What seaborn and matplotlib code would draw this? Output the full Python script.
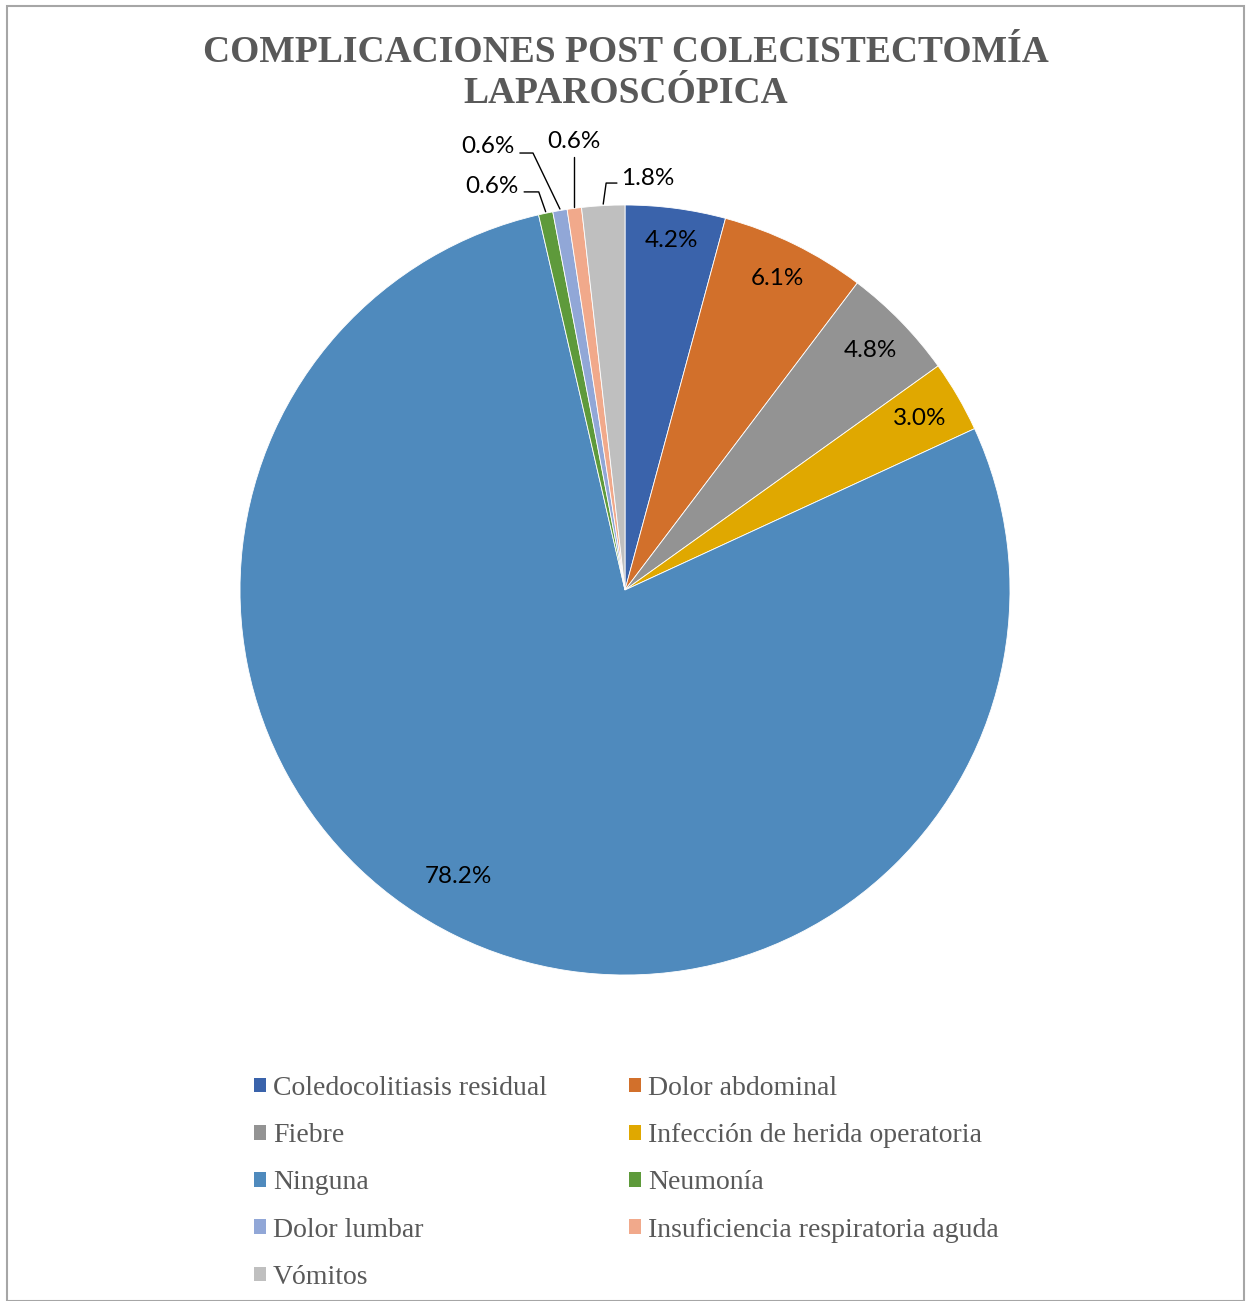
import numpy as np
import matplotlib
matplotlib.use("Agg")
import matplotlib.pyplot as plt
from matplotlib.patches import Patch, Rectangle
import seaborn as sns

# ---------------- data ----------------
categories = [
    "Coledocolitiasis residual",
    "Dolor abdominal",
    "Fiebre",
    "Infección de herida operatoria",
    "Ninguna",
    "Neumonía",
    "Dolor lumbar",
    "Insuficiencia respiratoria aguda",
    "Vómitos",
]
values = [4.2, 6.1, 4.8, 3.0, 78.2, 0.6, 0.6, 0.6, 1.8]
pct_labels = ["4.2%", "6.1%", "4.8%", "3.0%", "78.2%", "0.6%", "0.6%", "0.6%", "1.8%"]
colors = ["#3A63AB", "#D2702B", "#939393", "#E0A800", "#4F8ABD",
          "#5E9A3B", "#91A7D7", "#F1A98B", "#BFBFBF"]
title = "COMPLICACIONES POST COLECISTECTOMÍA\nLAPAROSCÓPICA"

# ---------------- style ----------------
sns.set_theme(style="white")
plt.rcParams["font.family"] = ["Lato", "DejaVu Sans"]

W, H = 1247, 1301
fig = plt.figure(figsize=(W / 100, H / 100), dpi=100)
fig.patch.set_facecolor("white")

# border
fig.add_artist(Rectangle((7 / W, 0), (1244 - 7) / W, 1 - 6 / H, transform=fig.transFigure,
                         fill=False, edgecolor="#A6A6A6", linewidth=1.5))

cx, cy, R = 625, 590, 385
ax = fig.add_axes([(cx - R) / W, 1 - (cy + R) / H, 2 * R / W, 2 * R / H])
wedges, _ = ax.pie(values, colors=colors, startangle=90, counterclock=False,
                   wedgeprops=dict(edgecolor="white", linewidth=0.6))
ax.set_xlim(-1, 1)
ax.set_ylim(-1, 1)
ax.set_aspect("equal")
ax.axis("off")

# inside labels for the big slices: (radial distance, angle shift in degrees)
inside = {0: (0.915, 0), 1: (0.90, 0), 2: (0.89, 0), 3: (0.885, 0), 4: (0.86, -4)}
for i, (d, shift) in inside.items():
    w = wedges[i]
    ang = np.deg2rad((w.theta1 + w.theta2) / 2 + shift)
    ax.text(d * np.cos(ang), d * np.sin(ang), pct_labels[i], ha="center", va="center",
            fontsize=17.5, color="black", clip_on=False)

# outside labels with leader lines for small slices (text pos, line start, elbow)
outside = {
    5: ((-0.345, 1.049), (-0.262, 1.034), (-0.224, 1.034)),
    6: ((-0.356, 1.153), (-0.273, 1.135), (-0.239, 1.135)),
    7: ((-0.132, 1.164), None, None),
    8: ((0.060, 1.070), (-0.021, 1.057), (-0.049, 1.057)),
}
for i, (tpos, start, elbow) in outside.items():
    w = wedges[i]
    ang = np.deg2rad((w.theta1 + w.theta2) / 2)
    ex, ey = np.cos(ang), np.sin(ang)
    ax.text(tpos[0], tpos[1], pct_labels[i], ha="center", va="center",
            fontsize=17.5, color="black", clip_on=False)
    if start is None:
        xs, ys = [ex, ex], [tpos[1] - 0.04, ey + 0.004]
    else:
        xs, ys = [start[0], elbow[0], ex], [start[1], elbow[1], ey + 0.004]
    ax.plot(xs, ys, color="black", linewidth=1.0, clip_on=False)

# title
fig.text(626 / W, 1 - 73 / H, title, ha="center", va="center", fontsize=27,
         fontweight="bold", family=["Liberation Serif", "DejaVu Serif"],
         color="#595959", linespacing=1.25)

# legend (row-wise order)
order = [0, 2, 4, 6, 8, 1, 3, 5, 7]
handles = [Patch(facecolor=colors[i], edgecolor="none") for i in order]
labels = [categories[i] for i in order]
leg = fig.legend(handles, labels, ncol=2, loc="upper left",
                 bbox_to_anchor=(254 / W, 1 - 1076 / H), bbox_transform=fig.transFigure,
                 frameon=False, borderpad=0, borderaxespad=0,
                 prop={"family": ["Liberation Serif", "DejaVu Serif"], "size": 20.0},
                 handlelength=0.44, handleheight=0.44, handletextpad=0.25,
                 columnspacing=2.95, labelspacing=0.8)
for t in leg.get_texts():
    t.set_color("#595959")

fig.savefig("out.png", dpi=100, facecolor="white")
